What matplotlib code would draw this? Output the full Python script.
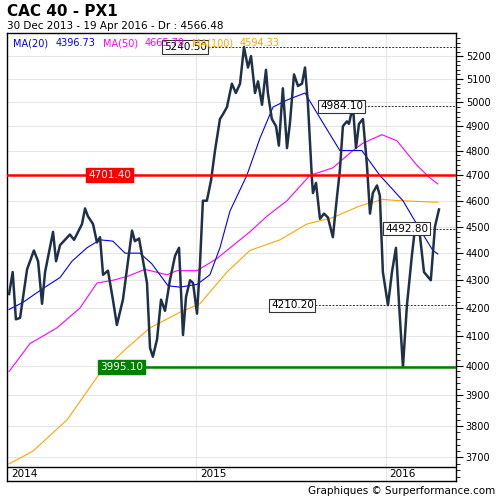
import numpy as np
import matplotlib
matplotlib.use("Agg")
import matplotlib.pyplot as plt
from matplotlib.ticker import FixedLocator, NullFormatter, FixedFormatter

# years after 1 Jan 2014 / index level
px_t = [.011, .03, .047, .069, .106, .142, .164, .185, .201, .243, .259, .28, .332, .354, .396, .412,
        .427, .454, .475, .491, .507, .533, .559, .58, .612, .66, .675, .697, .739, .755, .77, .792,
        .813, .834, .86, .887, .908, .929, .945, .966, .982, 1.003, 1.018, 1.034, 1.055, 1.077, 1.098,
        1.124, 1.14, 1.161, 1.187, 1.208, 1.23, 1.251, 1.272, 1.288, 1.309, 1.325, 1.346, 1.367, 1.377,
        1.398, 1.42, 1.435, 1.456, 1.478, 1.493, 1.515, 1.536, 1.557, 1.573, 1.588, 1.61, 1.615, 1.631,
        1.652, 1.673, 1.694, 1.72, 1.741, 1.757, 1.773, 1.794, 1.805, 1.826, 1.842, 1.858, 1.879, 1.9,
        1.916, 1.931, 1.953, 1.968, 1.984, 2.011, 2.032, 2.053, 2.069, 2.09, 2.111, 2.137, 2.153, 2.179,
        2.201, 2.237, 2.259, 2.28]
px_v = [4250, 4330, 4160, 4165, 4340, 4410, 4370, 4215, 4330, 4480, 4370, 4430, 4470, 4450, 4510, 4570,
        4540, 4510, 4440, 4460, 4320, 4335, 4230, 4140, 4230, 4485, 4445, 4455, 4290, 4060, 4030, 4090,
        4230, 4190, 4300, 4390, 4420, 4105, 4240, 4300, 4290, 4180, 4350, 4600, 4600, 4680, 4800,
        4930, 4950, 4980, 5080, 5040, 5080, 5240, 5150, 5200, 5040, 5090, 4990, 5140, 5040,
        4930, 4900, 4820, 5060, 4810, 4910, 5120, 5070, 5080, 5150, 5000, 4680, 4630, 4670,
        4530, 4550, 4535, 4460, 4610, 4720, 4900, 4920, 4910, 4984, 4810, 4910, 4930, 4740,
        4550, 4630, 4660, 4620, 4330, 4210, 4330, 4420, 4220, 3995, 4210, 4390, 4490, 4470,
        4330, 4300, 4500, 4566]

ma20_t = [.011, .084, .19, .28, .343, .422, .491, .559, .623, .702, .765, .85, .913, 1.003, 1.071, 1.124,
          1.177, 1.266, 1.335, 1.404, 1.478, 1.573, 1.625, 1.694, 1.757, 1.873, 1.968, 2.09, 2.179, 2.248, 2.274]
ma20_v = [4195, 4220, 4270, 4310, 4370, 4420, 4450, 4445, 4400, 4400, 4360, 4280, 4275, 4285, 4320, 4420,
          4560, 4700, 4850, 4980, 5010, 5040, 4970, 4880, 4800, 4800, 4700, 4600, 4490, 4410, 4397]
ma50_t = [.011, .121, .264, .385, .475, .559, .639, .728, .844, .897, 1.003, 1.108, 1.23, 1.282, 1.372,
          1.478, 1.599, 1.72, 1.826, 1.879, 1.979, 2.058, 2.164, 2.232, 2.274]
ma50_v = [3980, 4075, 4130, 4200, 4290, 4300, 4315, 4340, 4320, 4335, 4335, 4380, 4450, 4480, 4540,
          4600, 4700, 4730, 4800, 4830, 4865, 4840, 4740, 4690, 4666]
ma100_t = [.011, .137, .317, .491, .633, .755, .913, 1.018, 1.161, 1.282, 1.441, 1.583, 1.72, 1.863,
           1.984, 2.074, 2.274]
ma100_v = [3680, 3720, 3820, 3975, 4060, 4130, 4185, 4215, 4330, 4410, 4450, 4510, 4535, 4580,
           4605, 4600, 4594]

resistance = 4701.40
support = 3995.10
# (level, where the label box ends, in years after 2014)
marks = [(5240.50, 1.055), (4984.10, 1.879), (4210.20, 1.62), (4492.80, 2.222)]
legend = [("MA(20)", "4396.73", "#0000ff"), ("MA(50)", "4665.79", "#ff00ff"), ("MA(100)", "4594.33", "#ffa500")]
years = [2014, 2015, 2016]

fig = plt.figure(figsize=(5, 5), dpi=100)
fig.patch.set_facecolor("white")
ax = fig.add_axes([0.014, 0.038, 0.898, 0.896])
x0 = 2014
ax.set_yscale("log")
ax.set_ylim(3627, 5303)
ax.set_xlim(2014.0, 2016.37)
bottom_line = 3671

# grid
for v in range(3700, 5300, 100):
    ax.axhline(v, color="#e6e6e6", lw=0.8, zorder=0)
for yr in years[1:]:
    ax.axvline(yr, color="#e6e6e6", lw=0.8, zorder=0)
ax.axhline(bottom_line, color="black", lw=1, zorder=5)

ax.plot(np.array(ma100_t) + x0, ma100_v, color="#ffa500", lw=0.8, zorder=2)
ax.plot(np.array(ma50_t) + x0, ma50_v, color="#ff00ff", lw=0.8, zorder=2)
ax.plot(np.array(ma20_t) + x0, ma20_v, color="#0000ff", lw=0.8, zorder=2)
ax.plot(np.array(px_t) + x0, px_v, color="#1f3049", lw=1.8, zorder=3)

# horizontal levels
ax.axhline(resistance, color="red", lw=1.8, zorder=4)
ax.text(2014.43, resistance, f"{resistance:.2f}", color="white", fontsize=7.5, va="center",
        bbox=dict(boxstyle="square,pad=0.2", fc="red", ec="red"), zorder=6)
ax.plot([2014.485, 2016.37], [support, support], color="green", lw=1.8, zorder=4)
ax.text(2014.49, support, f"{support:.2f}", color="white", fontsize=7.5, va="center",
        bbox=dict(boxstyle="square,pad=0.2", fc="green", ec="green"), zorder=6)

for v, t in marks:
    ax.plot([x0 + t + 0.005, 2016.37], [v, v], color="#333333", lw=0.7, ls=(0, (2, 1.5)), zorder=4)
    ax.text(x0 + t, v, f"{v:.2f}", ha="right", va="center", fontsize=7.5,
            bbox=dict(boxstyle="square,pad=0.15", fc="white", ec="#333333", lw=0.8), zorder=6)

# legend row
lx = [0.013, 0.109, 0.214, 0.307, 0.412, 0.519]
for i, (name, val, col) in enumerate(legend):
    ax.text(lx[2 * i], 0.988, name, transform=ax.transAxes, color=col, fontsize=7, va="top", zorder=7)
    ax.text(lx[2 * i + 1], 0.988, val, transform=ax.transAxes, color=col, fontsize=7, va="top", zorder=7)

# axes
ax.yaxis.tick_right()
ax.yaxis.set_major_locator(FixedLocator(range(3700, 5300, 100)))
ax.yaxis.set_major_formatter(FixedFormatter([str(v) for v in range(3700, 5300, 100)]))
ax.yaxis.set_minor_locator(FixedLocator([v for v in range(3640, 5300, 20) if v % 100]))
ax.yaxis.set_minor_formatter(NullFormatter())
ax.tick_params(axis="y", which="major", labelsize=7, length=5, width=0.8, pad=2)
ax.tick_params(axis="y", which="minor", length=3, width=0.6)
ax.set_xticks([])
for yr in years:
    ax.text(yr + 0.02, 3649, str(yr), fontsize=7.5, va="center", ha="left")
for s in ax.spines.values():
    s.set_linewidth(1)

fig.text(0.014, 0.992, "CAC 40 - PX1", fontsize=11, weight="bold", va="top")
fig.text(0.014, 0.958, "30 Dec 2013 - 19 Apr 2016 - Dr : 4566.48", fontsize=7.5, va="top")
fig.text(0.99, 0.008, "Graphiques © Surperformance.com", fontsize=7.5, ha="right", va="bottom")

fig.savefig("out.png", dpi=100)
